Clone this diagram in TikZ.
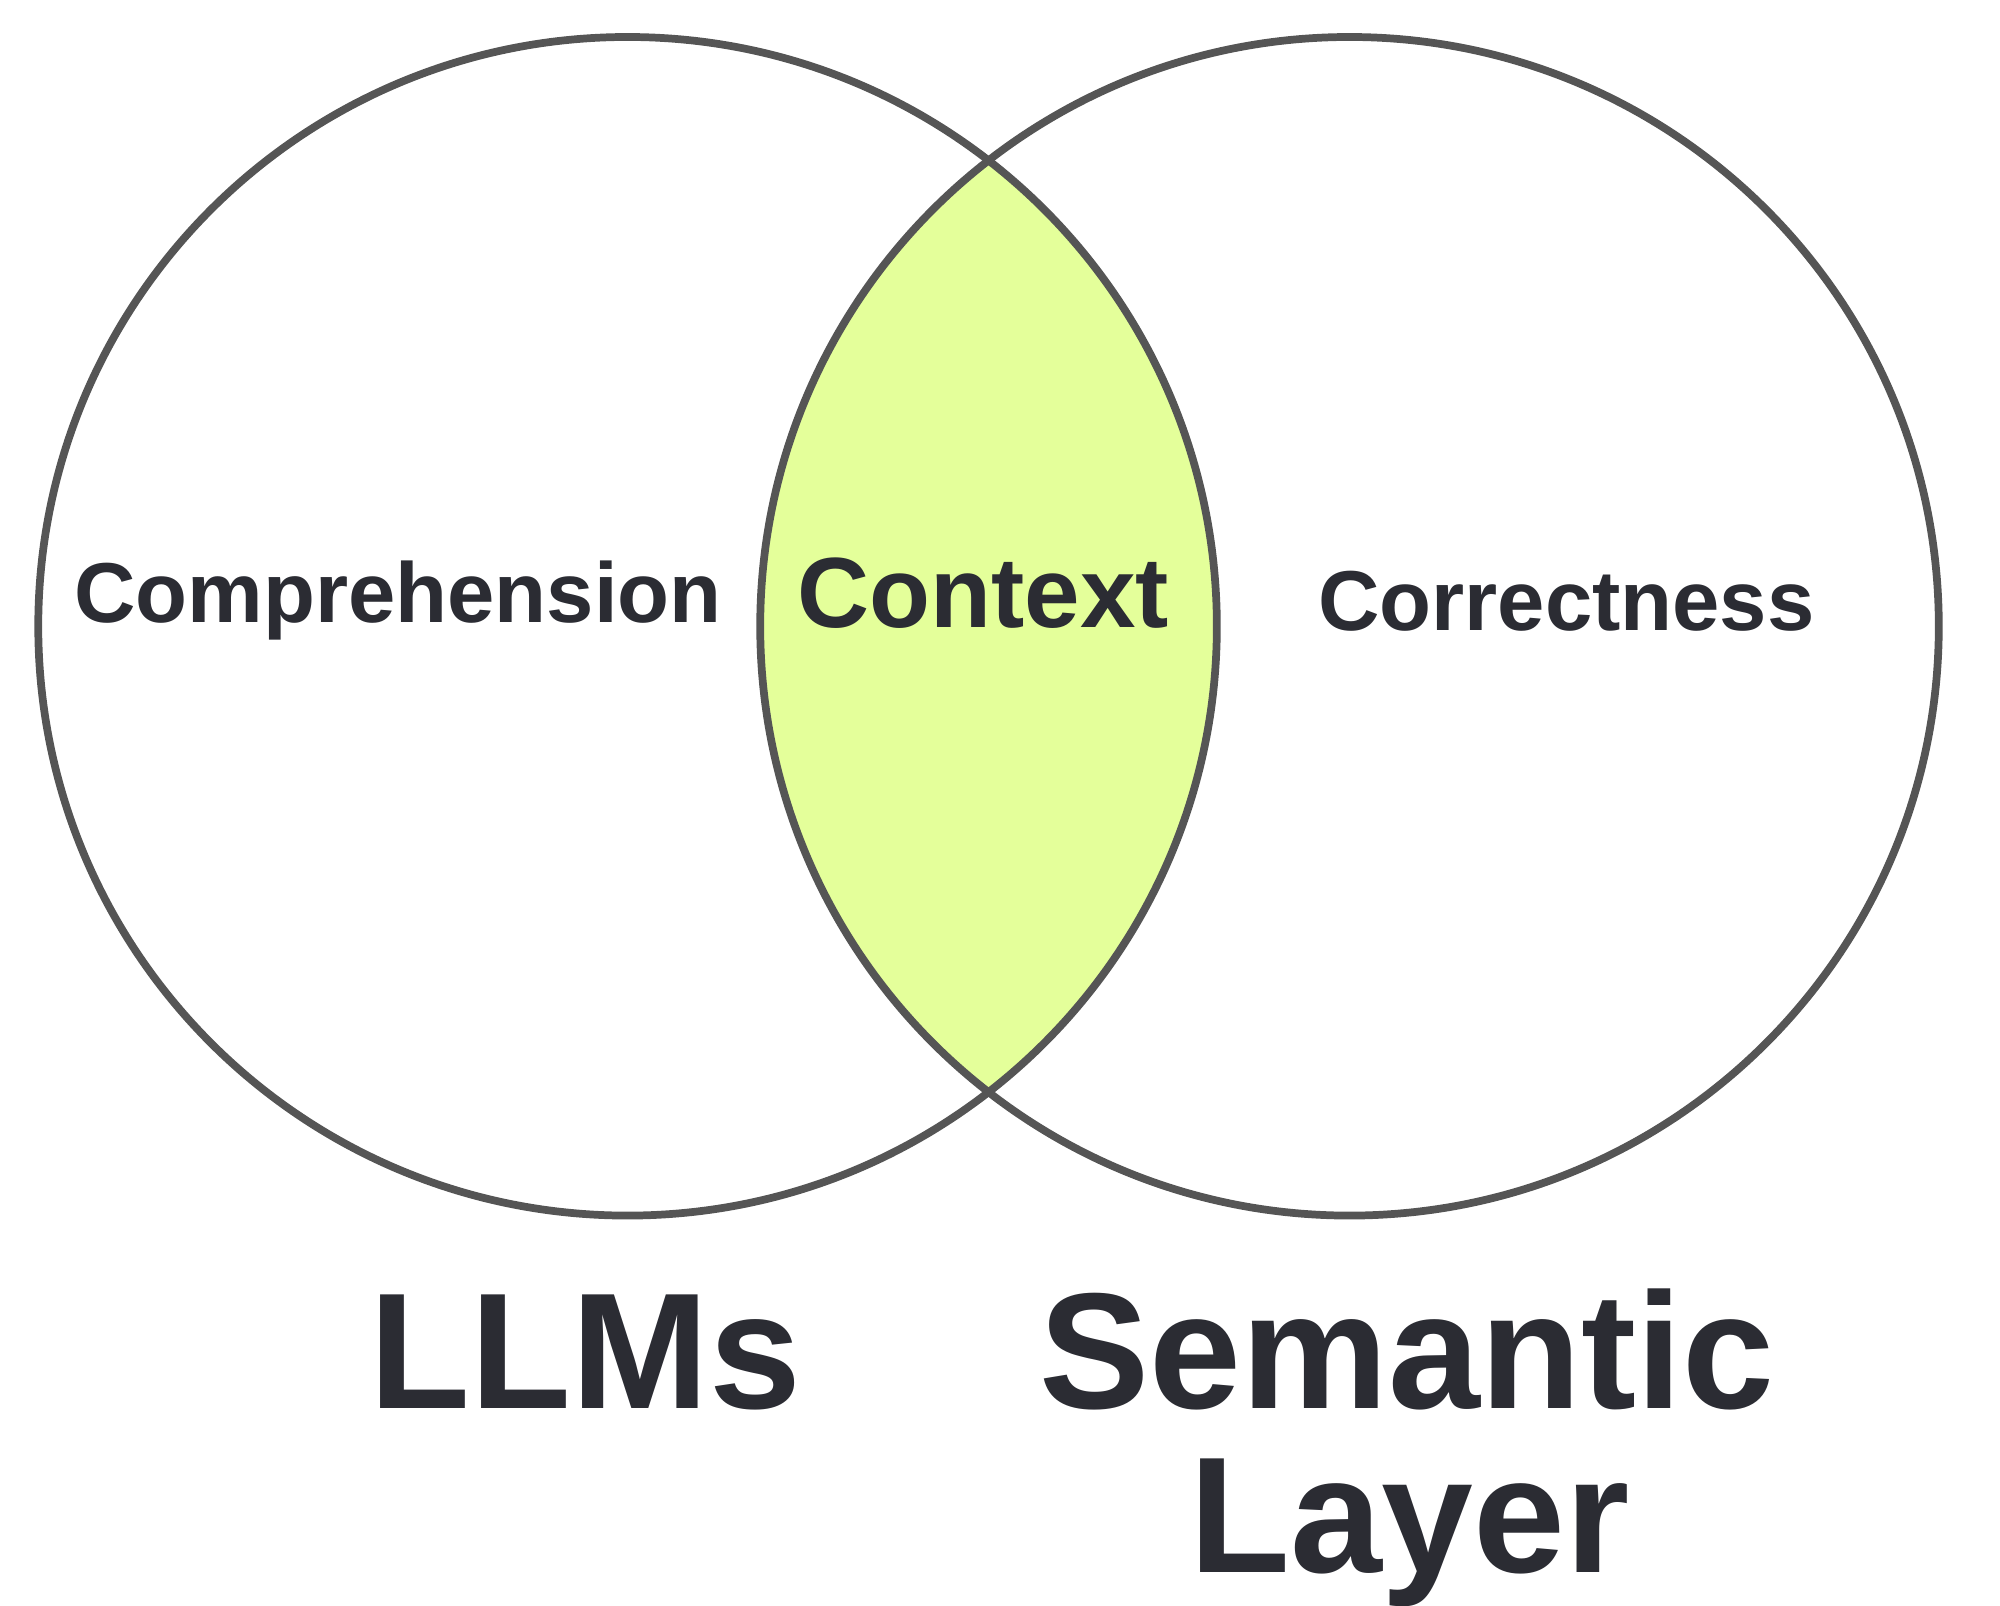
\documentclass[tikz,border=0pt]{standalone}
\usepackage{fontspec}
\setmainfont{Liberation Sans}
\begin{document}
\definecolor{ring}{HTML}{555555}
\definecolor{lens}{HTML}{E4FF9A}
\definecolor{ink}{HTML}{2B2C33}
\begin{tikzpicture}[x=0.012755cm,y=-0.012755cm,
  ringstyle/.style={draw=ring,line width=2.2pt},
  lbl/.style={text=ink,font=\bfseries\fontsize{24.2}{28}\selectfont,inner sep=0pt,anchor=base},
  big/.style={text=ink,font=\bfseries\fontsize{47}{47}\selectfont,inner sep=0pt,anchor=base}]
\useasboundingbox (0,0) rectangle (1568,1259);
\coordinate (cl) at (492,491);
\coordinate (cr) at (1058,491);
\begin{scope}
  \clip (cl) circle[radius=462];
  \fill[lens] (cr) circle[radius=462];
\end{scope}
\draw[ringstyle] (cl) circle[radius=462];
\draw[ringstyle] (cr) circle[radius=462];
\node[lbl] (comp) at (312,488) {Comprehension};
\node[lbl,font=\bfseries\fontsize{28.4}{32}\selectfont] (ctx) at (771,492) {Context};
\node[lbl] (corr) at (1228,494) {Correctness};
\node[big] (llm) at (459,1104) {LLMs};
\node[big] (sem) at (1103,1104) {Semantic};
\node[big] (lay) at (1105,1233) {Layer};
\end{tikzpicture}
\end{document}
